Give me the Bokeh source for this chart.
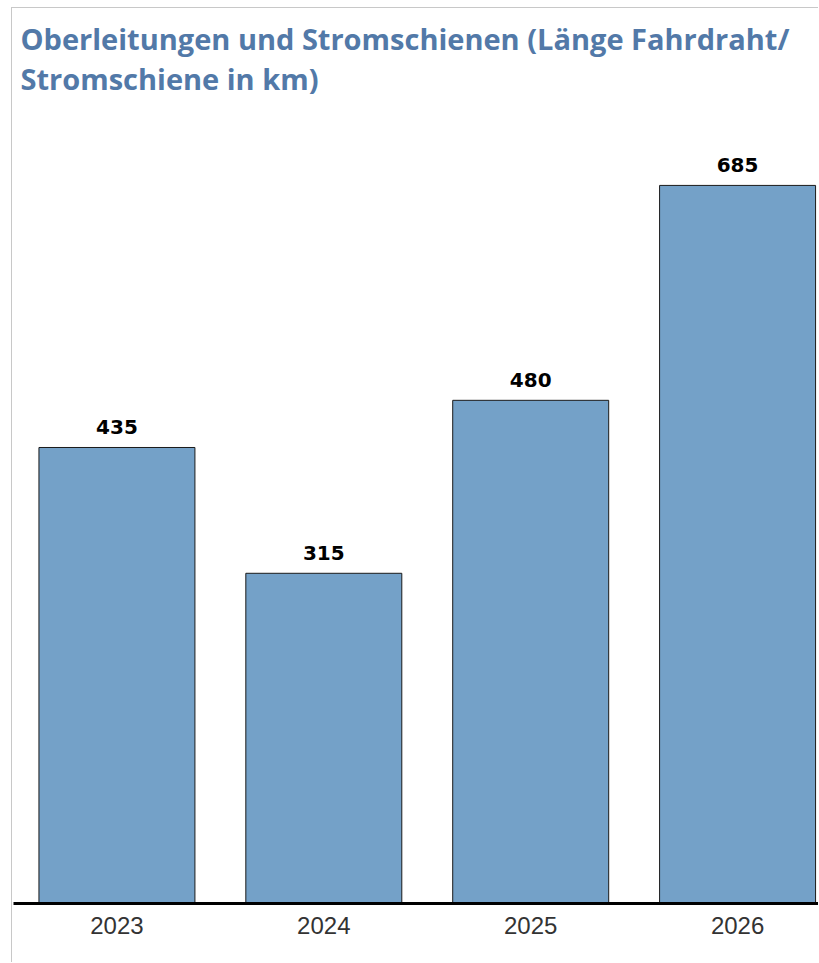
from bokeh.plotting import figure
from bokeh.models import Range1d, FixedTicker, Title, ColumnDataSource
from bokeh.core.properties import value
from bokeh.embed import file_html
from bokeh.resources import INLINE

years = ["2023", "2024", "2025", "2026"]
lengths_km = [435, 315, 480, 685]
title_text = "Oberleitungen und Stromschienen (Länge Fahrdraht/\nStromschiene in km)"

xs = list(range(len(years)))
src = ColumnDataSource(dict(x=xs, top=lengths_km, label=[str(v) for v in lengths_km]))

p = figure(width=807, height=955, output_backend="svg", toolbar_location=None,
           x_range=Range1d(-0.5, 3.396), y_range=Range1d(0, 766),
           min_border_left=1, min_border_right=0, min_border_bottom=60, min_border_top=92)
p.styles = {"border-left": "1px solid #c8c8c8", "border-top": "1px solid #c8c8c8",
            "margin-left": "11px", "margin-top": "7px"}

TITLE_COLOR = "#5279a8"
t = Title(text=title_text, text_font="Open Sans", text_font_style="bold",
          text_font_size="29px", text_color=TITLE_COLOR, offset=7, standoff=4,
          text_line_height=1.05)
p.title = None
p.add_layout(t, "above")

p.vbar(x="x", top="top", width=0.754, bottom=0, source=src,
       fill_color="#74a1c8", line_color="#1a1a1a", line_width=1)

p.text(x="x", y="top", text="label", source=src, y_offset=-13,
       text_align="center", text_baseline="bottom",
       text_font=value("DejaVu Sans"), text_font_style="bold",
       text_font_size="20px", text_color="#000000")

p.yaxis.visible = False
p.xgrid.visible = False
p.ygrid.visible = False
p.outline_line_color = None

ax = p.xaxis[0]
ax.ticker = FixedTicker(ticks=xs)
ax.major_label_overrides = {i: y for i, y in zip(xs, years)}
ax.major_tick_line_color = None
ax.minor_tick_line_color = None
ax.axis_line_color = "#000000"
ax.axis_line_width = 3
ax.major_label_text_font = "Liberation Sans"
ax.major_label_text_font_size = "24px"
ax.major_label_text_color = "#333333"
ax.major_label_standoff = 7

open("out.html", "w").write(file_html(p, INLINE))
